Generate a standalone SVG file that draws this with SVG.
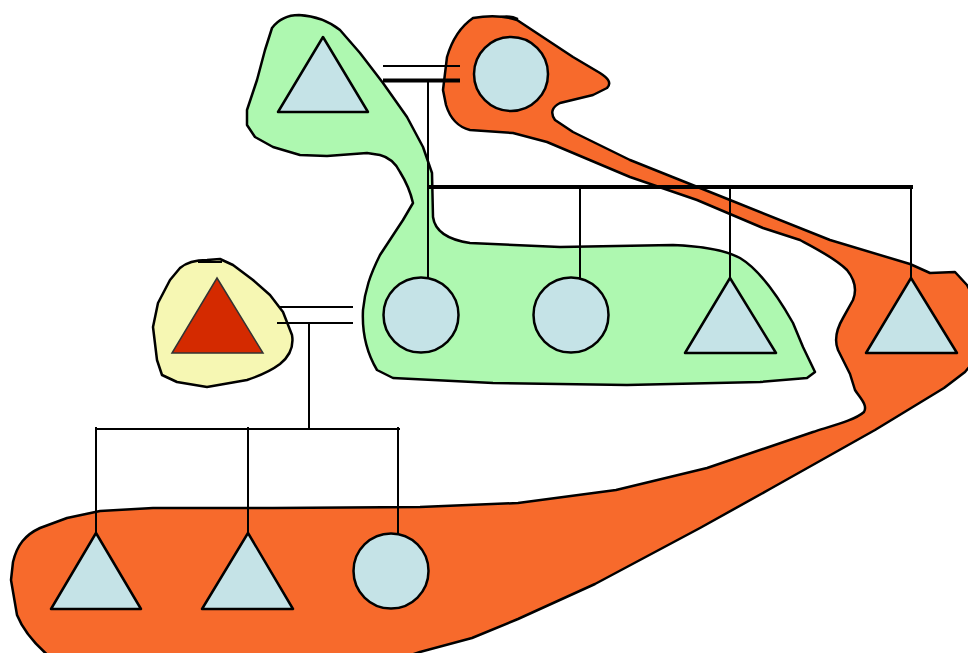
<svg xmlns="http://www.w3.org/2000/svg" width="968" height="653" viewBox="0 0 968 653">
<style>
.blob{stroke:#000;stroke-width:2.5;stroke-linejoin:round}
.green{fill:#AEF8B0}
.orange{fill:#F76A2C}
.yellow{fill:#F6F7B3}
.n{fill:#C5E3E7;stroke:#000;stroke-width:2.5;stroke-linejoin:round}
.red{fill:#D42A00;stroke:#333;stroke-width:1.5}
.c{stroke:#000;stroke-width:2;fill:none}
.ct{stroke:#000;stroke-width:4;fill:none}
</style>
<rect width="968" height="653" fill="#fff"/>
<g id="blob-orange">
<path class="blob orange" d="M 473,18 C 490,15 505,16 517,20 L 573,57 L 600,73 C 608,78 612,83 607,88 L 593,95 L 560,103 C 552,107 550,113 555,120 L 573,132 L 630,160 L 730,200 L 830,240 L 910,264 L 930,273 L 955,272 L 967,285 L 975,300 L 975,360 L 965,372 L 944,388 L 875,430 L 770,489 L 700,528 L 595,584 L 518,619 L 472,638 L 420,652 L 380,665 L 60,665 C 40,650 25,635 17,615 L 11,580 L 13,562 C 17,545 25,535 40,528 L 67,518 L 100,511 L 153,508 L 273,508 L 420,507 L 518,503 L 616,490 L 707,468 L 813,432 C 835,425 855,420 864,412 C 868,405 860,398 855,390 L 850,374 L 838,350 C 834,340 836,330 843,318 L 853,300 C 857,290 855,280 847,270 C 835,258 815,248 800,240 L 763,228 L 697,200 L 630,177 L 547,142 L 513,133 L 470,130 C 458,127 450,118 446,105 L 443,90 L 447,57 C 452,40 460,27 473,18 Z"/>
<path class="c" stroke-width="3" d="M 500,17 Q 510,15 518,19"/>
</g>
<g id="blob-green">
<path class="blob green" d="M 299,15 C 315,16 330,22 340,30 L 360,53 L 383,83 L 407,117 L 423,147 L 432,173 L 433,217 C 435,232 450,240 470,243 L 560,247 L 673,245 C 700,246 725,250 740,258 C 760,270 780,300 793,323 L 803,347 L 815,372 L 807,378 L 760,382 L 627,385 L 493,383 L 393,378 L 377,370 C 365,350 362,330 363,310 C 365,290 370,275 380,255 L 403,220 L 413,203 C 410,190 405,180 400,172 C 395,162 388,157 380,155 L 367,153 L 327,156 L 300,155 L 273,147 L 255,137 L 247,125 L 247,110 L 257,80 L 265,50 L 272,28 C 278,20 288,15 299,15 Z"/>
</g>
<g id="blob-yellow">
<path class="blob yellow" d="M 207,260 C 195,260 187,262 180,268 L 170,280 L 158,303 L 153,327 L 157,360 L 162,375 L 177,382 L 207,387 L 247,380 C 262,375 272,370 280,364 C 290,356 294,347 292,335 L 283,312 L 270,295 L 253,280 L 233,265 L 220,259 Z"/>
<path class="c" stroke-width="3" d="M 198,262 L 222,262"/>
</g>
<g id="connectors">
<path class="c" d="M 383,66 H 460"/>
<path class="ct" d="M 383,80.5 H 460"/>
<path class="c" d="M 428,80 V 278"/>
<path class="ct" d="M 428,187 H 913"/>
<path class="c" d="M 580,187 V 278"/>
<path class="c" d="M 730,187 V 278"/>
<path class="c" stroke-width="4.5" d="M 911,187 V 278"/>
<path class="c" d="M 279,307 H 353"/>
<path class="c" d="M 277,323 H 353"/>
<path class="c" d="M 309,323 V 429"/>
<path class="c" d="M 95,429 H 400"/>
<path class="c" d="M 96,427 V 533"/>
<path class="c" d="M 248,427 V 533"/>
<path class="c" d="M 398,427 V 534"/>
</g>
<g id="n-top-tri"><polygon class="n" points="323,37 368,112 278,112"/></g>
<g id="n-top-circle"><circle class="n" cx="511" cy="74" r="37"/></g>
<g id="n-mid-circle1"><circle class="n" cx="421" cy="315" r="37.5"/></g>
<g id="n-mid-circle2"><circle class="n" cx="571" cy="315" r="37.5"/></g>
<g id="n-mid-tri"><polygon class="n" points="730,278 776,353 685,353"/></g>
<g id="n-right-tri"><polygon class="n" points="911,278 957,353 866,353"/></g>
<g id="n-red-tri"><polygon class="red" points="217,278 263,353 172,353"/></g>
<g id="n-bot-tri1"><polygon class="n" points="96,533 141,609 51,609"/></g>
<g id="n-bot-tri2"><polygon class="n" points="248,533 293,609 202,609"/></g>
<g id="n-bot-circle"><circle class="n" cx="391" cy="571" r="37.5"/></g>
</svg>
